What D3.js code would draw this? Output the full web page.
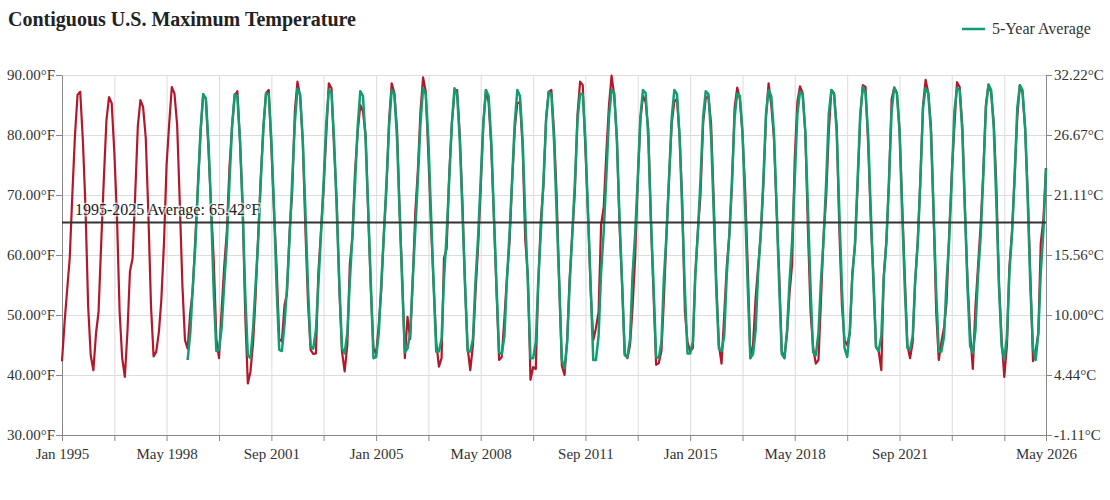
<!DOCTYPE html>
<html>
<head>
<meta charset="utf-8">
<script src="https://cdn.jsdelivr.net/npm/d3@7"></script>
<style>
  body { margin: 0; background: #fff; }
  svg { font-family: "Liberation Serif", "Times New Roman", serif; }
  .grid line { stroke: #dcdcdc; stroke-width: 1; }
  .grid .domain { display: none; }
  .axis .domain, .axis line { stroke: #888; }
  .axis text { fill: #333; font-size: 15px; font-family: "Liberation Serif", serif; }
</style>
</head>
<body>
<svg id="chart" width="1110" height="500"></svg>
<script>
// ---------------------------------------------------------------
// Data, monthly CONUS max temperature °F
// ---------------------------------------------------------------
const startMonth = "1995-01";

// red series: monthly values, Jan 1995 .. May 2026
const monthlyTemps = [
  42.3, 49.0, 54.0, 59.5, 70.0, 80.0, 86.7, 87.2, 79.0, 68.0, 51.5, 43.3, // 1995
  40.8, 47.0, 50.5, 62.0, 72.5, 82.5, 86.3, 85.3, 77.0, 66.5, 50.5, 42.8, // 1996
  39.7, 47.5, 57.2, 59.5, 70.0, 81.5, 85.8, 84.7, 79.5, 67.0, 51.5, 43.1, // 1997
  43.9, 47.2, 52.5, 62.0, 75.0, 82.0, 88.0, 86.9, 81.7, 69.0, 55.0, 45.8, // 1998
  44.4, 50.5, 54.0, 63.0, 71.5, 80.5, 86.8, 86.0, 77.5, 68.0, 59.0, 46.0, // 1999
  42.8, 51.0, 58.0, 64.0, 74.5, 81.5, 86.5, 87.3, 79.0, 68.5, 50.0, 38.6, // 2000
  40.6, 45.5, 53.0, 63.5, 73.0, 81.5, 87.0, 87.5, 78.0, 67.5, 58.0, 46.0, // 2001
  45.6, 51.7, 53.5, 64.0, 70.5, 84.0, 88.9, 86.5, 79.0, 64.5, 52.0, 44.2, // 2002
  43.5, 43.6, 57.0, 64.0, 71.0, 80.0, 88.6, 87.8, 77.5, 69.0, 54.0, 43.9, // 2003
  40.6, 45.0, 58.5, 63.0, 74.0, 80.5, 85.0, 83.9, 80.0, 67.0, 54.0, 44.5, // 2004
  43.5, 48.5, 54.0, 63.5, 71.0, 82.5, 88.6, 87.0, 81.0, 67.5, 56.0, 42.8, // 2005
  49.7, 46.0, 55.0, 67.0, 74.0, 84.0, 89.6, 87.2, 76.5, 65.0, 55.0, 45.5, // 2006
  41.4, 42.8, 59.5, 61.0, 73.5, 82.0, 87.0, 87.5, 80.0, 69.0, 55.0, 44.5, // 2007
  40.8, 45.0, 53.5, 61.5, 71.0, 82.0, 87.5, 85.5, 78.0, 66.5, 54.0, 42.5, // 2008
  43.0, 49.5, 56.0, 62.0, 72.0, 81.0, 85.3, 85.5, 78.0, 62.5, 56.5, 39.2, // 2009
  41.3, 41.0, 55.0, 66.0, 71.5, 83.0, 87.2, 87.5, 80.5, 70.0, 55.0, 41.5, // 2010
  40.0, 46.0, 56.0, 63.5, 70.5, 83.5, 88.9, 88.3, 77.5, 67.0, 54.0, 45.8, // 2011
  47.8, 50.5, 65.0, 68.0, 77.0, 85.0, 89.9, 86.5, 79.5, 65.0, 55.0, 43.6, // 2012
  42.8, 45.0, 51.0, 59.5, 72.0, 82.5, 86.5, 85.5, 81.0, 66.0, 53.5, 41.7, // 2013
  42.0, 44.0, 52.5, 63.5, 73.0, 82.0, 85.6, 86.0, 79.5, 69.0, 50.5, 45.5, // 2014
  43.9, 44.5, 56.5, 64.0, 70.0, 82.0, 86.1, 86.5, 82.0, 69.5, 55.5, 45.0, // 2015
  41.9, 50.0, 58.0, 63.5, 71.5, 84.5, 87.9, 86.0, 80.0, 71.0, 58.0, 42.8, // 2016
  45.0, 53.0, 58.0, 63.5, 71.5, 83.0, 88.6, 85.0, 79.5, 68.0, 57.0, 44.0, // 2017
  42.8, 47.0, 53.5, 58.5, 76.0, 85.5, 88.1, 87.0, 80.5, 64.5, 50.5, 44.5, // 2018
  41.9, 42.5, 52.0, 63.0, 69.5, 80.5, 87.5, 87.0, 81.5, 64.5, 51.5, 45.8, // 2019
  45.0, 47.0, 57.0, 61.5, 71.5, 83.0, 88.3, 88.0, 78.5, 66.0, 56.5, 44.7, // 2020
  44.0, 40.8, 56.5, 62.5, 72.0, 86.0, 87.9, 87.0, 81.0, 68.5, 56.5, 45.0, // 2021
  42.8, 45.5, 55.5, 62.5, 72.5, 85.0, 89.2, 87.0, 81.5, 67.5, 50.5, 42.5, // 2022
  45.5, 48.0, 52.0, 63.5, 73.5, 81.5, 88.8, 88.0, 81.5, 68.0, 55.5, 47.0, // 2023
  41.0, 51.5, 58.0, 65.0, 73.5, 85.0, 88.4, 87.0, 82.0, 71.5, 55.0, 46.0, // 2024
  39.7, 45.0, 58.0, 64.0, 73.0, 83.0, 88.3, 87.0, 81.0, 70.0, 56.0, 42.3, // 2025
  44.0, 47.0, 62.0, 66.0, 74.5                                              // 2026
];

// green series: 5-year average, Jan 1999 .. May 2026
const avgStartMonth = "1999-01";
const fiveYearAvg = [
  42.5, 47.0, 54.5, 61.5, 71.5, 81.0, 86.8, 86.1, 78.5, 67.5, 53.5, 44.0, // 1999
  44.2, 48.0, 55.0, 62.0, 72.0, 81.5, 86.8, 86.5, 79.0, 68.0, 53.5, 43.3, // 2000
  42.8, 48.0, 55.0, 62.5, 72.5, 81.5, 87.0, 86.8, 79.0, 68.0, 54.5, 44.2, // 2001
  44.0, 48.5, 54.5, 63.0, 72.5, 82.0, 87.7, 86.8, 79.0, 67.5, 54.5, 44.7, // 2002
  44.4, 47.5, 55.0, 63.5, 72.0, 82.0, 87.5, 87.0, 79.0, 67.5, 55.0, 44.5, // 2003
  43.6, 47.0, 55.5, 63.5, 72.0, 81.5, 87.3, 86.5, 79.0, 67.5, 55.0, 42.8, // 2004
  43.0, 47.0, 55.0, 63.5, 72.0, 81.5, 87.5, 86.8, 79.5, 67.0, 55.0, 43.8, // 2005
  44.4, 47.0, 55.5, 64.0, 72.5, 82.0, 87.8, 86.8, 79.0, 67.0, 55.0, 43.9, // 2006
  43.9, 46.0, 56.0, 63.5, 72.5, 82.0, 87.8, 86.8, 79.0, 67.5, 55.0, 44.0, // 2007
  43.9, 46.0, 55.5, 63.0, 72.5, 82.0, 87.5, 86.5, 79.0, 67.0, 55.0, 43.8, // 2008
  43.5, 46.5, 55.5, 63.5, 72.5, 82.0, 87.5, 86.5, 79.0, 66.5, 55.0, 42.8, // 2009
  42.8, 45.5, 55.5, 64.0, 72.5, 82.5, 87.2, 86.8, 79.0, 67.0, 55.0, 42.5, // 2010
  41.1, 45.5, 55.0, 63.5, 72.0, 82.5, 86.9, 86.8, 79.0, 67.0, 55.0, 42.5, // 2011
  42.5, 46.5, 57.0, 64.0, 73.0, 83.0, 87.5, 87.0, 79.0, 66.5, 55.0, 43.3, // 2012
  43.0, 46.0, 56.5, 63.5, 72.5, 83.0, 87.5, 87.0, 79.5, 66.0, 55.0, 43.0, // 2013
  42.8, 45.5, 56.0, 63.5, 73.0, 83.0, 87.5, 86.8, 79.5, 67.0, 54.0, 43.6, // 2014
  43.6, 45.5, 56.5, 64.0, 72.5, 83.0, 87.3, 86.8, 80.0, 67.5, 54.0, 44.4, // 2015
  44.0, 46.5, 56.5, 63.5, 72.5, 83.0, 86.9, 86.5, 80.5, 68.0, 54.5, 42.8, // 2016
  43.5, 47.5, 57.0, 63.5, 72.5, 83.5, 87.5, 86.5, 80.5, 68.5, 55.0, 43.5, // 2017
  42.8, 47.5, 55.5, 62.5, 72.5, 83.5, 87.2, 86.8, 80.5, 68.0, 54.5, 43.8, // 2018
  43.3, 47.0, 55.5, 62.5, 72.0, 83.5, 87.5, 86.8, 80.5, 67.5, 54.5, 44.5, // 2019
  43.0, 47.5, 56.5, 62.0, 72.5, 83.5, 88.0, 87.0, 80.0, 67.5, 55.5, 44.7, // 2020
  44.0, 46.5, 56.0, 62.0, 72.5, 84.0, 87.9, 87.0, 80.5, 67.5, 54.5, 44.5, // 2021
  44.2, 46.5, 55.5, 62.0, 72.5, 84.5, 87.8, 87.0, 80.5, 67.5, 54.0, 43.9, // 2022
  43.9, 46.5, 55.5, 62.5, 72.5, 84.0, 87.8, 87.5, 80.5, 67.5, 54.5, 44.8, // 2023
  43.6, 47.5, 56.5, 63.0, 73.0, 84.5, 88.4, 87.5, 81.0, 68.5, 54.5, 44.8, // 2024
  42.5, 46.5, 57.0, 63.5, 73.0, 84.5, 88.3, 87.5, 81.0, 69.0, 54.5, 44.5, // 2025
  42.5, 47.0, 57.0, 64.0, 74.4                                              // 2026
];

const longTermAvg = 65.42;
const avgLabel = "1995-2025 Average: 65.42°F";

const yTicksF = [30, 40, 50, 60, 70, 80, 90];
const xTickMonths = [
  "1995-01", "1996-09", "1998-05", "2000-01", "2001-09", "2003-05", "2005-01",
  "2006-09", "2008-05", "2010-01", "2011-09", "2013-05", "2015-01", "2016-09",
  "2018-05", "2020-01", "2021-09", "2023-05", "2025-01", "2026-05"
];
const xTickLabels = [
  "Jan 1995", "May 1998", "Sep 2001", "Jan 2005", "May 2008",
  "Sep 2011", "Jan 2015", "May 2018", "Sep 2021", "May 2026"
];

// ---------------------------------------------------------------
// Setup
// ---------------------------------------------------------------
const width = 1110, height = 500;
const margin = { top: 75, right: 64, bottom: 65, left: 62 };

const parseMonth = d3.timeParse("%Y-%m");
const fmtMonth = d3.timeFormat("%b %Y");

const toSeries = (start, values) => {
  const t0 = parseMonth(start);
  return values.map((v, i) => ({ date: d3.timeMonth.offset(t0, i), value: v }));
};
const tempData = toSeries(startMonth, monthlyTemps);
const avgData = toSeries(avgStartMonth, fiveYearAvg);

const svg = d3.select("#chart");

const x = d3.scaleTime()
  .domain(d3.extent(tempData, (d) => d.date))
  .range([margin.left, width - margin.right]);
const y = d3.scaleLinear()
  .domain([30, 90])
  .range([height - margin.bottom, margin.top]);

const xTicks = xTickMonths.map(parseMonth);

// grid
svg.append("g")
  .attr("class", "grid")
  .attr("transform", `translate(0, ${height - margin.bottom})`)
  .call(d3.axisBottom(x).tickValues(xTicks).tickSize(-(height - margin.top - margin.bottom)).tickFormat(""));
svg.append("g")
  .attr("class", "grid")
  .attr("transform", `translate(${margin.left}, 0)`)
  .call(d3.axisLeft(y).tickValues(yTicksF).tickSize(-(width - margin.left - margin.right)).tickFormat(""));

// axes
svg.append("g")
  .attr("class", "axis")
  .attr("transform", `translate(0, ${height - margin.bottom})`)
  .call(d3.axisBottom(x).tickValues(xTicks).tickSizeOuter(0)
    .tickFormat((d) => (xTickLabels.includes(fmtMonth(d)) ? fmtMonth(d) : "")))
  .call((g) => g.selectAll("text").attr("dy", "1.0em"));

svg.append("g")
  .attr("class", "axis")
  .attr("transform", `translate(${margin.left}, 0)`)
  .call(d3.axisLeft(y).tickValues(yTicksF).tickSizeOuter(0)
    .tickFormat((d) => `${d.toFixed(2)}°F`))
  .call((g) => g.selectAll("text").attr("x", -7));

svg.append("g")
  .attr("class", "axis")
  .attr("transform", `translate(${width - margin.right}, 0)`)
  .call(d3.axisRight(y).tickValues(yTicksF).tickSizeOuter(0)
    .tickFormat((d) => `${((d - 32) * 5 / 9).toFixed(2)}°C`))
  .call((g) => g.selectAll("text").attr("x", 8));

// lines
const line = d3.line()
  .x((d) => x(d.date))
  .y((d) => y(d.value));

svg.append("path")
  .datum(tempData)
  .attr("fill", "none")
  .attr("stroke", "#b2182b")
  .attr("stroke-width", 2.2)
  .attr("stroke-linejoin", "round")
  .attr("d", line);

svg.append("path")
  .datum(avgData)
  .attr("fill", "none")
  .attr("stroke", "#139c72")
  .attr("stroke-width", 2.5)
  .attr("stroke-linejoin", "round")
  .attr("d", line);

// long-term average
svg.append("line")
  .attr("x1", margin.left)
  .attr("x2", width - margin.right)
  .attr("y1", y(longTermAvg))
  .attr("y2", y(longTermAvg))
  .attr("stroke", "#333")
  .attr("stroke-width", 2);

svg.append("text")
  .attr("x", margin.left + 13)
  .attr("y", y(longTermAvg) - 7)
  .attr("font-size", 16)
  .attr("fill", "#222")
  .attr("stroke", "#fff")
  .attr("stroke-opacity", 0.6)
  .attr("stroke-width", 3)
  .attr("paint-order", "stroke")
  .text(avgLabel);

// title
svg.append("text")
  .attr("x", 8)
  .attr("y", 26)
  .attr("font-size", 20)
  .attr("font-weight", "bold")
  .attr("fill", "#222")
  .text("Contiguous U.S. Maximum Temperature");

// legend
const legend = svg.append("g").attr("transform", "translate(962, 29)");
legend.append("line")
  .attr("x1", 0).attr("x2", 23)
  .attr("stroke", "#139c72")
  .attr("stroke-width", 2.5);
legend.append("text")
  .attr("x", 30)
  .attr("y", 5)
  .attr("font-size", 16)
  .attr("fill", "#333")
  .text("5-Year Average");
</script>
</body>
</html>
